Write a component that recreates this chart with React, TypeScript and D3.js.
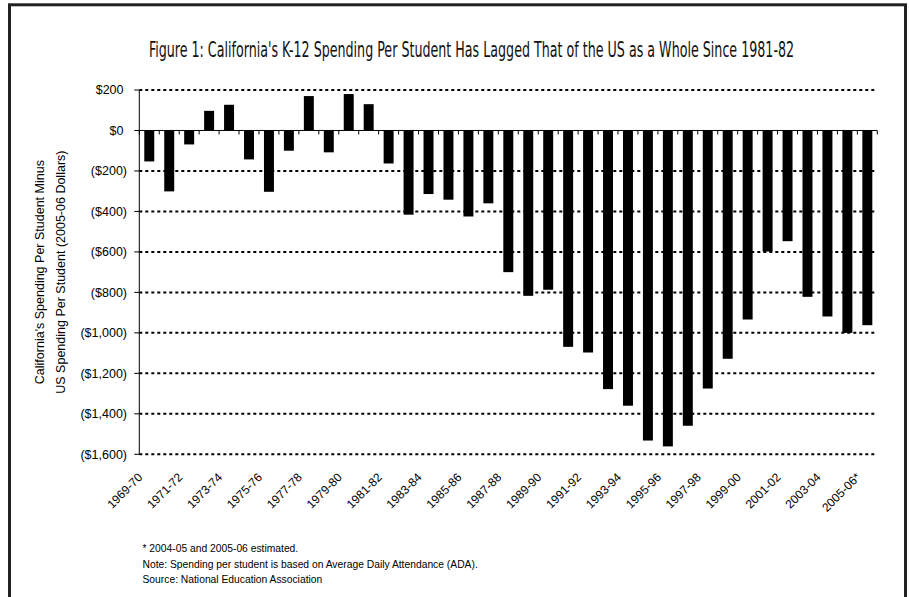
import React, { useEffect, useRef, useState } from 'react';
import * as d3 from 'd3';

// School years on the category axis (every other one is labelled)
const seasons = [
  '1969-70', '1970-71', '1971-72', '1972-73', '1973-74', '1974-75', '1975-76',
  '1976-77', '1977-78', '1978-79', '1979-80', '1980-81', '1981-82', '1982-83',
  '1983-84', '1984-85', '1985-86', '1986-87', '1987-88', '1988-89', '1989-90',
  '1990-91', '1991-92', '1992-93', '1993-94', '1994-95', '1995-96', '1996-97',
  '1997-98', '1998-99', '1999-00', '2000-01', '2001-02', '2002-03', '2003-04',
  '2004-05', '2005-06*',
];

// California minus US spending per student, 2005-06 dollars
const spendingGap = [
  -153, -301, -69, 97, 127, -143, -303,
  -100, 170, -108, 180, 130, -163, -416,
  -314, -342, -425, -360, -700, -817, -787,
  -1069, -1097, -1278, -1360, -1532, -1561, -1459,
  -1275, -1128, -934, -598, -547, -822, -919,
  -1000, -962,
];

const yTicks = [200, 0, -200, -400, -600, -800, -1000, -1200, -1400, -1600];
const gridValues = yTicks.filter((v) => v !== 0);

const titleText =
  "Figure 1: California's K-12 Spending Per Student Has Lagged That of the US as a Whole Since 1981-82";
const yTitleLines = [
  "California's Spending Per Student Minus",
  'US Spending Per Student (2005-06 Dollars)',
];
const footnotes = [
  '* 2004-05 and 2005-06 estimated.',
  'Note: Spending per student is based on Average Daily Attendance (ADA).',
  'Source: National Education Association',
];

const W = 909;
const H = 597;
const plot = { left: 139.3, right: 877.3, top: 90, bottom: 454.3 };
const FONT = "'Liberation Sans', Arial, sans-serif";
const TITLE_WIDTH = 645;

const money = d3.format('$,.0f');
const fmtTick = (v: number) => (v < 0 ? `(${money(-v)})` : money(v));

export default function App() {
  const titleRef = useRef<SVGTextElement>(null);
  const [titleScale, setTitleScale] = useState(0.75);

  // squeeze the title horizontally into its condensed width
  useEffect(() => {
    const el = titleRef.current;
    if (!el) return;
    const len = el.getComputedTextLength();
    if (len > 0) setTitleScale(TITLE_WIDTH / len);
  }, []);

  const x = d3
    .scaleBand<string>()
    .domain(seasons)
    .range([plot.left, plot.right])
    .paddingInner(0.5)
    .paddingOuter(0.25);
  const y = d3.scaleLinear().domain([-1600, 200]).range([plot.bottom, plot.top]);
  const step = x.step();
  const bw = x.bandwidth();
  const y0 = y(0);
  const boundaries = d3.range(seasons.length + 1).map((i) => plot.left + i * step);
  const yMid = (plot.top + plot.bottom) / 2;

  return (
    <svg
      width={W}
      height={H}
      viewBox={`0 0 ${W} ${H}`}
      style={{ position: 'absolute', left: 0, top: 0, background: '#fff' }}
      fontFamily={FONT}
    >
      {/* outer frame */}
      <rect x={9.5} y={4.8} width={896} height={H + 20} fill="none" stroke="#222" strokeWidth={3} />

      {/* title */}
      <g transform={`translate(${(148 + 795) / 2},57) scale(${titleScale},1)`}>
        <text
          ref={titleRef}
          x={0}
          y={0}
          textAnchor="middle"
          fontSize={21}
          fontFamily="'DejaVu Sans Condensed', 'Liberation Sans Narrow', 'Liberation Sans', sans-serif"
          fill="#111"
        >
          {titleText}
        </text>
      </g>

      {/* dotted gridlines */}
      {gridValues.map((v) => (
        <line
          key={`g${v}`}
          x1={plot.left}
          x2={plot.right}
          y1={y(v)}
          y2={y(v)}
          stroke="#000"
          strokeWidth={2}
          strokeDasharray="3,3"
        />
      ))}

      {/* bars */}
      {seasons.map((s, i) => {
        const v = spendingGap[i];
        return (
          <rect
            key={s}
            x={x(s)}
            y={y(Math.max(0, v))}
            width={bw}
            height={Math.abs(y(v) - y0)}
            fill="#000"
          />
        );
      })}

      {/* y axis */}
      <line x1={plot.left} x2={plot.left} y1={plot.top} y2={plot.bottom} stroke="#000" strokeWidth={1} />
      {yTicks.map((v) => (
        <g key={`t${v}`}>
          <line x1={plot.left - 5} x2={plot.left} y1={y(v)} y2={y(v)} stroke="#000" strokeWidth={1} />
          <text
            x={v < 0 ? 127 : 123.5}
            y={y(v)}
            dy="0.35em"
            textAnchor="end"
            fontSize={12.5}
            fill="#000"
          >
            {fmtTick(v)}
          </text>
        </g>
      ))}

      {/* x axis along zero */}
      <line x1={plot.left} x2={plot.right} y1={y0} y2={y0} stroke="#000" strokeWidth={1} />
      {boundaries.map((bx, i) => (
        <line key={`b${i}`} x1={bx} x2={bx} y1={y0} y2={y0 + 4} stroke="#000" strokeWidth={1} />
      ))}

      {/* category labels */}
      {seasons.map((s, i) =>
        i % 2 === 0 ? (
          <text
            key={`l${s}`}
            transform={`translate(${(x(s) as number) + bw / 2 - 6},478) rotate(-45)`}
            textAnchor="end"
            fontSize={12}
            fill="#000"
          >
            {s}
          </text>
        ) : null
      )}

      {/* y axis title */}
      {yTitleLines.map((t, i) => (
        <text
          key={`yt${i}`}
          transform={`translate(${44 + i * 21},${yMid}) rotate(-90)`}
          textAnchor="middle"
          fontSize={12.5}
          fill="#000"
        >
          {t}
        </text>
      ))}

      {/* notes */}
      {footnotes.map((t, i) => (
        <text key={`n${i}`} x={142.5} y={552 + i * 15.5} fontSize={10.3} fill="#000">
          {t}
        </text>
      ))}
    </svg>
  );
}
